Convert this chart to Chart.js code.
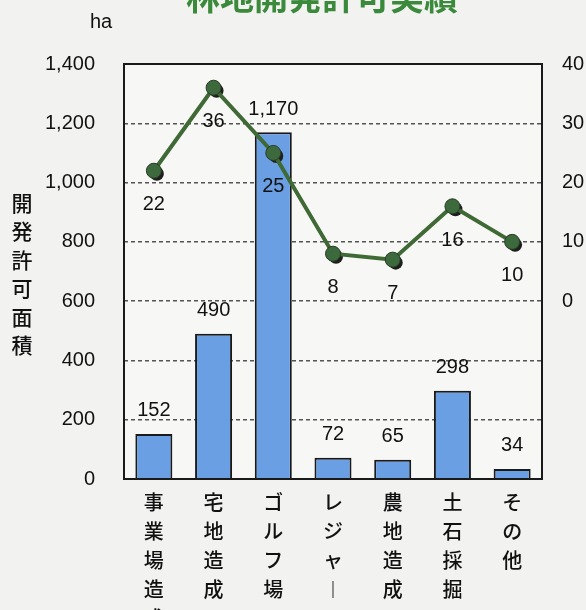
<!DOCTYPE html>
<html>
<head>
<meta charset="utf-8">
<script src="https://cdn.jsdelivr.net/npm/chart.js@4/dist/chart.umd.min.js"></script>
<style>
  html, body { margin: 0; padding: 0; background: #f2f2f0; }
  #wrap { width: 586px; height: 610px; }
</style>
</head>
<body>
<div id="wrap"><canvas id="myChart" width="586" height="610"></canvas></div>
<script>
// 林地開発許可実績
var categories = ['事業場造成', '宅地造成', 'ゴルフ場', 'レジャー', '農地造成', '土石採掘', 'その他'];
var areaHa = [152, 490, 1170, 72, 65, 298, 34];      // 開発許可面積 (ha), bars
var permitCount = [22, 36, 25, 8, 7, 16, 10];       // 件数, line (right axis)
var leftTicks = [0, 200, 400, 600, 800, 1000, 1200, 1400];
var rightTicks = [0, 10, 20, 30, 40];

var numFont = '"Liberation Sans", Arial, sans-serif';
var jpFont = '"Noto Sans CJK JP", sans-serif';

// vertical writing: one char per line, long vowel mark turned upright
function stack(s) {
    return s.split('').map(function (c) { return c === 'ー' ? '︱' : c; });
}

var decorations = {
    id: 'decorations',
    beforeDraw: function (chart) {
        var ctx = chart.ctx, a = chart.chartArea;
        ctx.save();
        ctx.fillStyle = '#f7f7f5';
        ctx.fillRect(a.left, a.top, a.right - a.left, a.bottom - a.top);
        ctx.restore();
    },
    beforeDatasetDraw: function (chart, args) {
        // the scan shows a dark drop shadow under each marker
        if (args.index === 1) {
            var ctx = chart.ctx;
            ctx.save();
            ctx.fillStyle = '#1c1f1b';
            args.meta.data.forEach(function (pt) {
                ctx.beginPath();
                ctx.arc(pt.x + 3, pt.y + 3, 7, 0, Math.PI * 2);
                ctx.fill();
            });
            ctx.restore();
        }
    },
    afterDatasetsDraw: function (chart) {
        var ctx = chart.ctx, a = chart.chartArea;
        ctx.save();
        // plot frame
        ctx.strokeStyle = '#1a1a1a';
        ctx.lineWidth = 2;
        ctx.strokeRect(a.left, a.top, a.right - a.left, a.bottom - a.top);

        ctx.fillStyle = '#111';
        ctx.font = '20px ' + numFont;
        ctx.textAlign = 'center';
        ctx.textBaseline = 'middle';
        chart.getDatasetMeta(0).data.forEach(function (bar, i) {
            ctx.fillText(areaHa[i].toLocaleString('en-US'), bar.x, bar.y - 23);
        });
        chart.getDatasetMeta(1).data.forEach(function (pt, i) {
            ctx.fillText(String(permitCount[i]), pt.x, pt.y + 34);
        });

        // title (cut off at the top in the scan)
        ctx.fillStyle = '#3b8a3c';
        ctx.font = 'bold 34px ' + jpFont;
        ctx.fillText('林地開発許可実績', 322, -3);

        // unit and axis title
        ctx.fillStyle = '#111';
        ctx.font = '20px ' + numFont;
        ctx.fillText('ha', 101, 22);
        ctx.font = '500 21px ' + jpFont;
        stack('開発許可面積').forEach(function (c, i) {
            ctx.fillText(c, 22, 203 + i * 28.4);
        });
        ctx.restore();
    }
};

var ctx = document.getElementById('myChart').getContext('2d');
var myChart = new Chart(ctx, {
    type: 'bar',
    data: {
        labels: categories.map(stack),
        datasets: [
            {
                type: 'bar',
                label: '面積',
                data: areaHa,
                backgroundColor: '#6a9fe4',
                borderColor: '#1a1a1a',
                borderWidth: 2,
                barPercentage: 0.62,
                categoryPercentage: 1,
                yAxisID: 'y',
                order: 2
            },
            {
                type: 'line',
                label: '件数',
                data: permitCount,
                borderColor: '#3f6a36',
                borderWidth: 4,
                pointRadius: 7.5,
                pointBackgroundColor: '#3d6a3c',
                pointBorderColor: '#2a3a28',
                pointBorderWidth: 1,
                tension: 0,
                yAxisID: 'y1',
                order: 1
            }
        ]
    },
    options: {
        responsive: false,
        animation: false,
        layout: { padding: { top: 64, left: 0, right: 0, bottom: 0 } },
        plugins: {
            legend: { display: false },
            tooltip: { enabled: false }
        },
        scales: {
            x: {
                grid: { display: false },
                border: { display: false },
                ticks: {
                    color: '#111',
                    font: { size: 20, family: jpFont, weight: '500', lineHeight: 1.45 },
                    maxRotation: 0,
                    autoSkip: false,
                    padding: 1
                },
                afterFit: function (s) { s.height = 131; }
            },
            y: {
                position: 'left',
                min: 0,
                max: 1400,
                afterBuildTicks: function (s) {
                    s.ticks = leftTicks.map(function (v) { return { value: v }; });
                },
                grid: { color: '#555', lineWidth: 1.5, drawTicks: false },
                border: { display: false, dash: [4, 3] },
                ticks: {
                    color: '#111',
                    font: { size: 20, family: numFont },
                    padding: 29,
                    callback: function (v) { return v.toLocaleString('en-US'); }
                },
                afterFit: function (s) { s.width = 124; }
            },
            y1: {
                position: 'right',
                min: -30,
                max: 40,
                afterBuildTicks: function (s) {
                    s.ticks = rightTicks.map(function (v) { return { value: v }; });
                },
                grid: { drawOnChartArea: false, drawTicks: false },
                border: { display: false },
                ticks: {
                    color: '#111',
                    font: { size: 20, family: numFont },
                    padding: 20
                },
                afterFit: function (s) { s.width = 44; }
            }
        }
    },
    plugins: [decorations]
});
</script>
</body>
</html>
